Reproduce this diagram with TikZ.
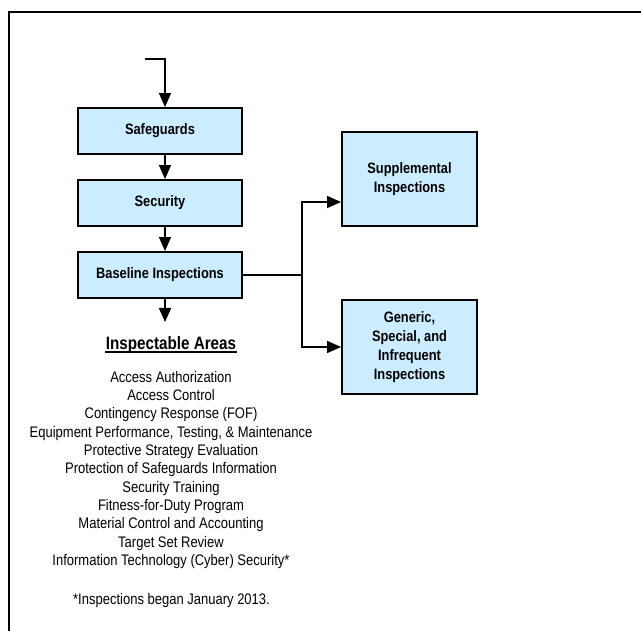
\documentclass[tikz,border=0pt]{standalone}
\usepackage{fontspec}
\setmainfont{Liberation Sans}[FakeStretch=0.85]
\usetikzlibrary{arrows.meta,positioning}
\definecolor{boxblue}{RGB}{204,236,255}

\begin{document}
\begin{tikzpicture}[x=1pt,y=-1pt,line width=1.5pt,>={Triangle[length=14pt,width=12pt]}]
            \tikzstyle{stage}=[draw,fill=boxblue,line width=1.8pt,minimum width=164pt,minimum height=46pt,inner sep=0pt,font=\fontsize{15.1}{19}\selectfont\bfseries,align=center]
            \tikzstyle{branch}=[stage,minimum width=135pt,minimum height=94pt]
            \tikzstyle{plain}=[inner sep=0pt,align=center,font=\fontsize{15.3}{18.33}\selectfont]
            \useasboundingbox (0,0) rectangle (641,631);

            % frame, cut off at right and bottom
            \draw[line width=2pt] (9,631) -- (9,12) -- (641,12);

            \node[stage] (safeguards) at (160,131) {Safeguards};
            \node[stage,below=24.2pt of safeguards] (security) {Security};
            \node[stage,below=24.2pt of security] (baseline) {Baseline Inspections};
            \node[branch] (supplemental) at (409.5,179) {Supplemental\\Inspections};
            \node[branch] (generic) at (409.5,347) {Generic,\\Special, and\\Infrequent\\Inspections};

            \coordinate (entry) at (145,59);
            \coordinate (areas) at (165,322);
            \coordinate (trunk) at (302,0);

            \draw[->] (entry) -| ([xshift=5pt]safeguards.north);
            \draw[->] ([xshift=5pt]safeguards.south) -- ([xshift=5pt]security.north);
            \draw[->] ([xshift=5pt]security.south) -- ([xshift=5pt]baseline.north);
            \draw[->] ([xshift=5pt]baseline.south) -- (areas);
            \draw (baseline.east) -- (baseline.east -| trunk) coordinate (split);
            \draw[->] (split) |- ([yshift=-23pt]supplemental.west);
            \draw[->] (split) |- (generic.west);

            \node[plain,anchor=base,font=\fontsize{17.9}{20}\selectfont\bfseries] (heading) at (171,350) {Inspectable Areas};
            \draw[line width=1.2pt] ([yshift=-2pt]heading.base west) -- ([yshift=-2pt]heading.base east);
            \node[plain,anchor=north] (arealist) at (171,370.5) {Access Authorization\\
                Access Control\\
                Contingency Response (FOF)\\
                Equipment Performance, Testing, \& Maintenance\\
                Protective Strategy Evaluation\\
                Protection of Safeguards Information\\
                Security Training\\
                Fitness-for-Duty Program\\
                Material Control and Accounting\\
                Target Set Review\\
                Information Technology (Cyber) Security*};
            \node[plain,anchor=base] (footnote) at (171.5,605) {*Inspections began January 2013.};
\end{tikzpicture}
\end{document}
